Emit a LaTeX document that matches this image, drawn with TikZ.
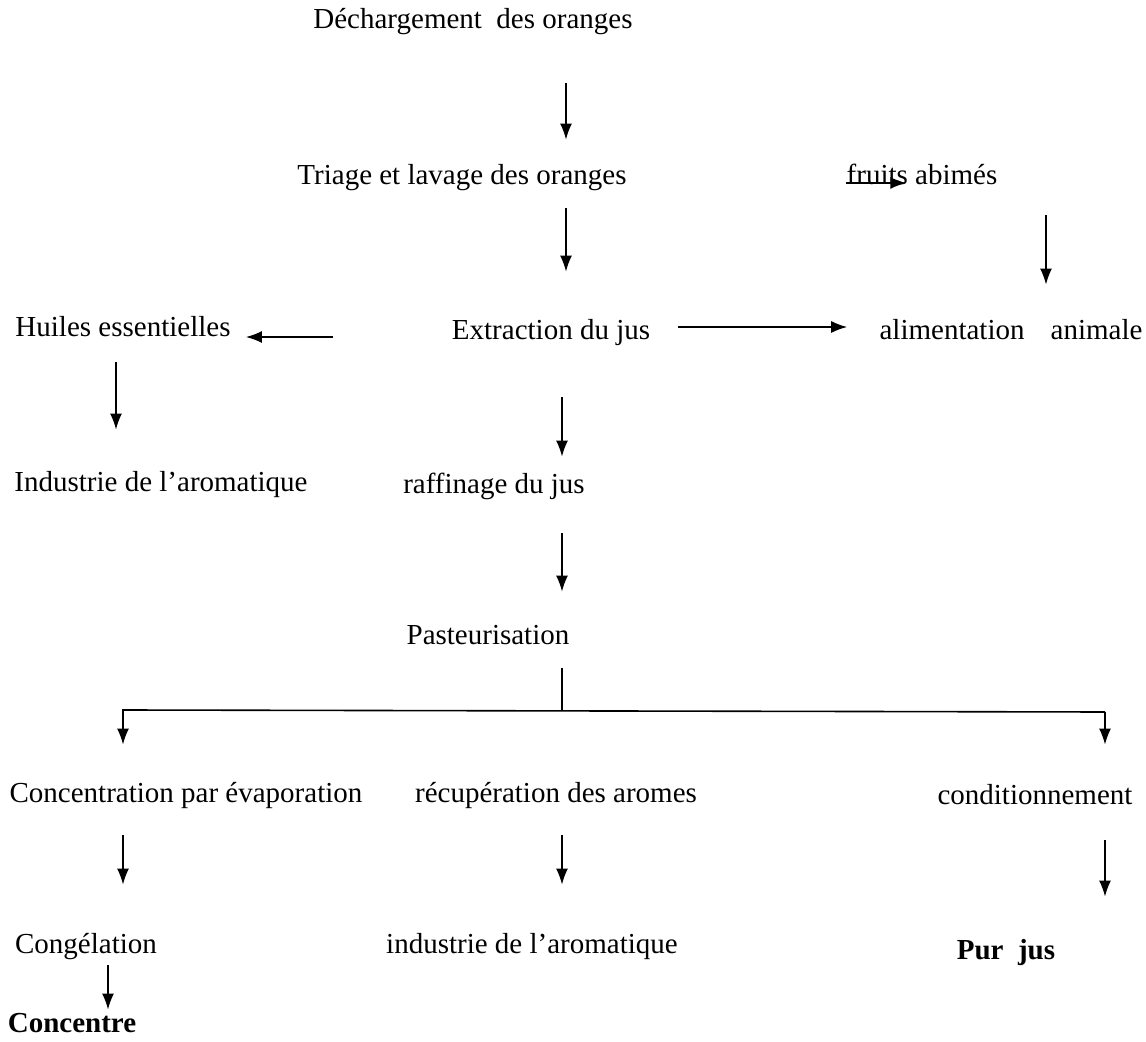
\documentclass[tikz,border=0pt]{standalone}
\usepackage{fontspec}
\setmainfont{Liberation Serif}
\usetikzlibrary{arrows.meta}

\begin{document}
\begin{tikzpicture}[
  x=0.5pt, y=-0.5pt,
  stage/.style={inner sep=0pt, text height=10pt, text depth=3pt,
                font=\fontsize{14.5}{17}\selectfont},
  final/.style={stage, font=\fontsize{14.5}{17}\selectfont\bfseries},
  flow/.style={draw, line width=0.8pt, -{Latex[length=8pt, width=6pt]}},
  link/.style={draw, line width=0.8pt},
]
\useasboundingbox (0,0) rectangle (1146,1042);

% columns of the arrows
\coordinate (colA) at (566,0);
\coordinate (colB) at (562,0);
\coordinate (colF) at (1046,0);
\coordinate (colH) at (116,0);
\coordinate (colL) at (123,0);
\coordinate (colR) at (1105,0);
\coordinate (colC) at (108,0);

% main line
\node[stage] (dech)   at (473,22)  {Déchargement\ \ des oranges};
\node[stage] (tri)    at (462,178) {Triage et lavage des oranges};
\node[stage] (extr)   at (551,333) {Extraction du jus};
\node[stage] (raff)   at (494,487) {raffinage du jus};
\node[stage] (past)   at (488,638) {Pasteurisation};

% side products
\node[stage] (fruits) at (922,178) {fruits abimés};
\node[stage] (alim)   at (1011,333) {alimentation\hspace{0.9em}animale};
\node[stage] (huiles) at (123,330) {Huiles essentielles};
\node[stage] (indA)   at (161,485) {Industrie de l’aromatique};

% after pasteurisation
\node[stage] (conc)   at (186,795) {Concentration par évaporation};
\node[stage] (recup)  at (556,795) {récupération des aromes};
\node[stage] (cond)   at (1035,797) {conditionnement};
\node[stage] (cong)   at (86,946)  {Congélation};
\node[stage] (indB)   at (532,946) {industrie de l’aromatique};
\node[final] (pur)    at (1006,952) {Pur\ \ jus};
\node[final] (concf)  at (72,1025) {Concentre};

\coordinate (split)  at (562,710);
\coordinate (splitL) at (123,710);
\coordinate (splitR) at (1105,712);

% arrows
\draw[flow, shorten <=24pt, shorten >=12.5pt] (dech.south -| colA) -- (tri.north -| colA);
\draw[flow, shorten <=8.5pt, shorten >=24pt] (tri.south -| colA) -- (extr.north -| colA);
\draw[flow] ([yshift=-2.5pt]fruits.west) -- ++(30pt,0);
\draw[flow, shorten <=12pt, shorten >=17.5pt] (fruits.south -| colF) -- (alim.north -| colF);
\draw[flow, shorten <=14pt, shorten >=16pt] ([yshift=3pt]extr.east) -- ([yshift=3pt]extr.east -| alim.west);
\draw[flow, shorten <=59.5pt, shorten >=7.5pt] ([yshift=-2pt]extr.west) -- ([yshift=-2pt]extr.west -| huiles.east);
\draw[flow, shorten <=9.5pt, shorten >=21pt] (huiles.south -| colH) -- (indA.north -| colH);
\draw[flow, shorten <=25.5pt, shorten >=8.5pt] (extr.south -| colB) -- (raff.north -| colB);
\draw[flow, shorten <=16.5pt, shorten >=16.5pt] (raff.south -| colB) -- (past.north -| colB);

% split after pasteurisation
\draw[link, shorten <=8.5pt] (past.south -| colB) -- (split);
\draw[flow, shorten >=18.5pt] (splitR) -- (splitL) -- (splitL |- conc.north);
\draw[flow, shorten >=19.5pt] (splitR) -- (splitR |- cond.north);

\draw[flow, shorten <=13.5pt, shorten >=24pt] (conc.south -| colL) -- (cong.north -| colL);
\draw[flow, shorten <=13.5pt, shorten >=24pt] (recup.south -| colB) -- (indB.north -| colB);
\draw[flow, shorten <=15pt, shorten >=21pt] (cond.south -| colR) -- (pur.north -| colR);
\draw[flow, shorten <=3pt, shorten >=1pt] (cong.south -| colC) -- (concf.north -| colC);
\end{tikzpicture}
\end{document}
